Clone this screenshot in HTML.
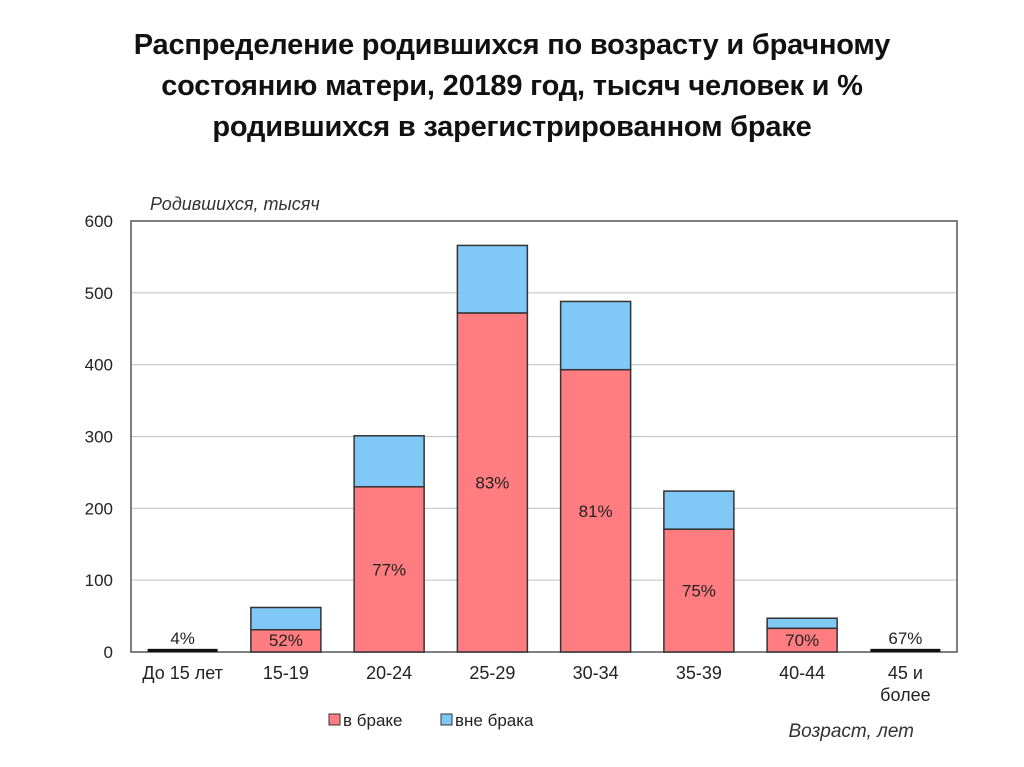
<!DOCTYPE html>
<html><head><meta charset="utf-8"><style>
body{margin:0;background:#fff;width:1024px;height:767px;overflow:hidden;font-family:"Liberation Sans",sans-serif}
h1{position:absolute;top:25px;left:0;width:1024px;margin:0;text-align:center;font-size:29px;line-height:41px;font-weight:bold;color:#111;letter-spacing:-0.2px}
</style></head><body>
<h1>Распределение родившихся по возрасту и брачному<br>состоянию матери, 20189 год, тысяч человек и %<br>родившихся в зарегистрированном браке</h1>
<svg id="chart" width="1024" height="767" style="position:absolute;left:0;top:0" font-family="Liberation Sans, sans-serif"></svg>
<script>
const categories=["До 15 лет","15-19","20-24","25-29","30-34","35-39","40-44","45 и|более"];
const married=[0.5,31,230,472,393,171,33,1];
const unmarried=[2.5,31,71,94,95,53,14,2];
const pctLabels=["4%","52%","77%","83%","81%","75%","70%","67%"];
const yTicks=[0,100,200,300,400,500,600];
const NS="http://www.w3.org/2000/svg";
const svg=document.getElementById('chart');
const L=131,R=957,T=221,B=652,yMax=600;
const y=v=>B-(v/yMax)*(B-T);
const cw=(R-L)/categories.length;
const xc=i=>L+cw*(i+0.5);
const bw=70;
function mk(tag,attrs,parent){const e=document.createElementNS(NS,tag);for(const k in attrs)e.setAttribute(k,attrs[k]);(parent||svg).appendChild(e);return e;}
yTicks.forEach(t=>{
 if(t>0&&t<600){const g=mk('line',{x1:L,x2:R,y1:y(t),y2:y(t),stroke:'#c8c8c8','stroke-width':1.2});
 
 }
 const tx=mk('text',{x:113,y:y(t)+6,'text-anchor':'end','font-size':17,fill:'#222'});tx.textContent=t;
 
 
});
const frame=mk('rect',{x:L,y:T,width:R-L,height:B-T,fill:'none',stroke:'#555','stroke-width':1.5});


categories.forEach((c,i)=>{
 const x0=xc(i)-bw/2,m=married[i],u=unmarried[i],tot=m+u;
 const small=tot<10;
 if(small){
  const r=mk('rect',{x:x0,y:y(tot)-1,width:bw,height:B-y(tot)+1,fill:'#111'});
  
  
 }else{
  const r1=mk('rect',{x:x0,y:y(m),width:bw,height:B-y(m),fill:'#ff7c80',stroke:'#333','stroke-width':1.5});
  
  
  const r2=mk('rect',{x:x0,y:y(tot),width:bw,height:y(m)-y(tot),fill:'#80c8f5',stroke:'#333','stroke-width':1.5});
  
  
 }
 let ly=small?y(tot)-6:(m<60?B-6:(y(m)+B)/2+6);
 const t=mk('text',{x:xc(i),y:ly,'text-anchor':'middle','font-size':17,fill:'#222'});t.textContent=pctLabels[i];
 
 
 const parts=c.split('|');
 parts.forEach((p,k)=>{const lt=mk('text',{x:xc(i),y:679+k*22,'text-anchor':'middle','font-size':18,fill:'#222'});lt.textContent=p;
 
 });
});
const yt=mk('text',{x:150,y:210,'font-size':18,'font-style':'italic',fill:'#333'});yt.textContent='Родившихся, тысяч';


const xt=mk('text',{x:914,y:737,'text-anchor':'end','font-size':19,'font-style':'italic',fill:'#333'});xt.textContent='Возраст, лет';


const lg=mk('g',{});


const s1=mk('rect',{x:329,y:714,width:11,height:11,fill:'#ff7c80',stroke:'#333','stroke-width':1},lg);


const t1=mk('text',{x:343,y:726,'font-size':17,fill:'#222'},lg);t1.textContent='в браке';


const s2=mk('rect',{x:441,y:714,width:11,height:11,fill:'#80c8f5',stroke:'#333','stroke-width':1},lg);


const t2=mk('text',{x:455,y:726,'font-size':17,fill:'#222'},lg);t2.textContent='вне брака';


</script>
</body></html>
